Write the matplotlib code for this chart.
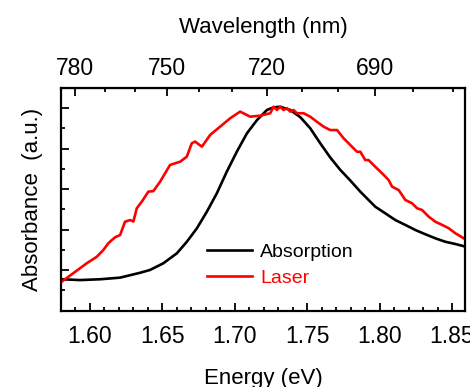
import matplotlib
matplotlib.use("Agg")
import matplotlib.pyplot as plt
from matplotlib.ticker import MultipleLocator, FixedLocator

plt.rcParams["font.family"] = ["Liberation Sans", "DejaVu Sans"]

# ── Datos ─────────────────────────────────────────────────────────────────────

abs_energy = [1.5805, 1.5931, 1.6070, 1.6208, 1.6346, 1.6415, 1.6507, 1.6600,
              1.6669, 1.6738, 1.6807, 1.6876, 1.6945, 1.7014, 1.7084, 1.7153,
              1.7222, 1.7268, 1.7314, 1.7383, 1.7452, 1.7521, 1.7590, 1.7659,
              1.7728, 1.7798, 1.7867, 1.7970, 1.8040, 1.8109, 1.8178, 1.8247,
              1.8316, 1.8385, 1.8454, 1.8523, 1.8593]
abs_values = [0.155, 0.151, 0.155, 0.163, 0.187, 0.201, 0.234, 0.283,
              0.340, 0.406, 0.488, 0.579, 0.686, 0.784, 0.875, 0.940,
              0.990, 1.003, 1.006, 0.990, 0.955, 0.900, 0.826, 0.756,
              0.695, 0.642, 0.587, 0.513, 0.480, 0.447, 0.423, 0.398,
              0.377, 0.357, 0.340, 0.329, 0.316]

laser_energy = [1.5805, 1.5885, 1.5978, 1.6047, 1.6092, 1.6127, 1.6173, 1.6208,
                1.6242, 1.6277, 1.6300, 1.6323, 1.6358, 1.6403, 1.6438, 1.6484,
                1.6553, 1.6623, 1.6669, 1.6703, 1.6726, 1.6773, 1.6830,
                1.6899, 1.6968, 1.7037, 1.7106, 1.7176, 1.7245,
                1.7268, 1.7291, 1.7314, 1.7337, 1.7360, 1.7383, 1.7406, 1.7429,
                1.7475, 1.7521, 1.7567, 1.7613, 1.7659, 1.7706, 1.7751, 1.7798,
                1.7844, 1.7867, 1.7901, 1.7924, 1.7970, 1.8017, 1.8062, 1.8086,
                1.8132, 1.8178, 1.8224, 1.8259, 1.8293, 1.8339, 1.8385, 1.8432,
                1.8477, 1.8523, 1.8593]
laser_values = [0.143, 0.185, 0.234, 0.266, 0.299, 0.333, 0.362, 0.373,
                0.439, 0.447, 0.440, 0.505, 0.538, 0.587, 0.590, 0.636,
                0.719, 0.735, 0.760, 0.826, 0.834, 0.809, 0.867,
                0.908, 0.949, 0.982, 0.957, 0.962, 0.974,
                1.006, 0.990, 1.006, 0.990, 0.999, 0.982, 0.990, 0.974,
                0.974, 0.957, 0.932, 0.908, 0.891, 0.891, 0.851, 0.817,
                0.784, 0.784, 0.743, 0.743, 0.710, 0.678, 0.645, 0.612,
                0.595, 0.546, 0.530, 0.505, 0.497, 0.464, 0.439, 0.423,
                0.407, 0.382, 0.352]

wl_major = [780, 750, 720, 690]
wl_minor = [670, 680, 700, 710, 730, 740, 760, 770]

HC = 1239.84  # eV·nm


def ev_to_nm(e):
    return HC / e


# ── Figura ────────────────────────────────────────────────────────────────────

fig = plt.figure(figsize=(4.7, 3.87), dpi=100)
ax = fig.add_axes([0.1298, 0.1972, 0.8596, 0.5762])

ax.plot(abs_energy, abs_values, color="black", linewidth=1.9, label="Absorption")
ax.plot(laser_energy, laser_values, color="#ff0000", linewidth=1.9, label="Laser")

ax.set_xlim(1.58, 1.859)
ax.set_ylim(0, 1.1)

ax.xaxis.set_major_locator(MultipleLocator(0.05))
ax.xaxis.set_minor_locator(MultipleLocator(0.01))
ax.xaxis.set_major_formatter(plt.FormatStrFormatter("%.2f"))
ax.yaxis.set_major_locator(FixedLocator([0.2, 0.4, 0.6, 0.8, 1.0]))
ax.yaxis.set_minor_locator(FixedLocator([0.1, 0.3, 0.5, 0.7, 0.9]))
ax.set_yticklabels([])

ax.tick_params(which="both", direction="in", top=False, right=False, width=1.3)
ax.tick_params(which="major", length=5.5, labelsize=16.5, pad=10)
ax.tick_params(which="minor", length=3)
for sp in ax.spines.values():
    sp.set_linewidth(1.6)

ax.set_xlabel("Energy (eV)", fontsize=16, labelpad=14.5)
ax.set_ylabel("Absorbance  (a.u.)", fontsize=16, labelpad=3)

top = ax.secondary_xaxis("top", functions=(ev_to_nm, ev_to_nm))
top.set_xticks(wl_major)
top.xaxis.set_minor_locator(FixedLocator(wl_minor))
top.tick_params(which="both", direction="in", width=1.3)
top.tick_params(which="major", length=5.5, labelsize=16.5, pad=5.5)
top.tick_params(which="minor", length=3)
top.set_xlabel("Wavelength (nm)", fontsize=16, labelpad=17.5)

leg = ax.legend(loc="lower left", bbox_to_anchor=(0.342, 0.07), frameon=False,
                fontsize=14, handlelength=2.3, handletextpad=0.45,
                labelspacing=0.45, borderaxespad=0)
for txt, line in zip(leg.get_texts(), leg.get_lines()):
    txt.set_color(line.get_color())

fig.savefig("out.png", dpi=100)
